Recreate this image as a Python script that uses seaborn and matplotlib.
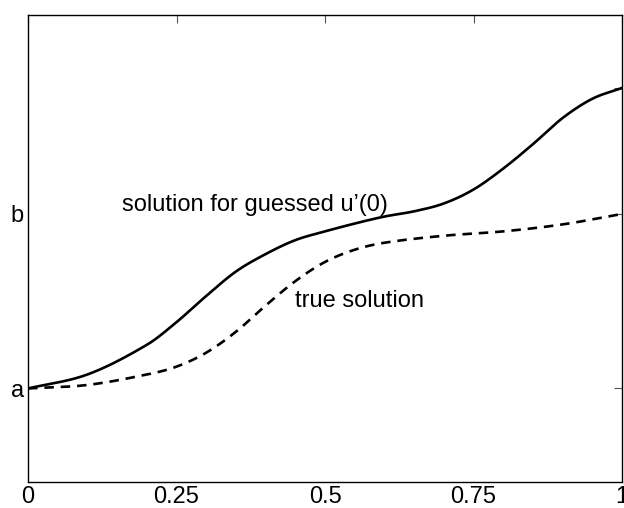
import numpy as np
import pandas as pd
import matplotlib
matplotlib.use("Agg")
import matplotlib.pyplot as plt
import seaborn as sns

# ---------------------------------------------------------------
# Data (a = 0, b = 1 on the y scale)
# ---------------------------------------------------------------
guess_x = [0.0, 0.1, 0.2, 0.25, 0.3, 0.35, 0.4, 0.45, 0.5, 0.55, 0.6,
           0.65, 0.7, 0.75, 0.8, 0.85, 0.9, 0.95, 1.0]
guess_y = [0.0, 0.08, 0.25, 0.38, 0.53, 0.67, 0.77, 0.85, 0.90, 0.945, 0.985,
           1.015, 1.06, 1.14, 1.26, 1.40, 1.55, 1.66, 1.722]

true_x = [0.0, 0.1, 0.2, 0.25, 0.3, 0.35, 0.4, 0.45, 0.5, 0.55, 0.6,
          0.7, 0.8, 0.9, 1.0]
true_y = [0.0, 0.02, 0.08, 0.125, 0.205, 0.325, 0.475, 0.615, 0.725, 0.795, 0.835,
          0.875, 0.90, 0.94, 1.0]

x_ticks = [0, 0.25, 0.5, 0.75, 1]
x_tick_labels = ["0", "0.25", "0.5", "0.75", "1"]
y_ticks = [0, 1, 1.722]
y_tick_labels = ["a", "b", ""]

guess_label = "solution for guessed u\u2019(0)"
true_label = "true solution"


def smooth(xs, ys, n=400):
    # Catmull-Rom style cubic resampling of the read-off points
    xs = np.asarray(xs, float)
    ys = np.asarray(ys, float)
    h = np.diff(xs)
    d = np.diff(ys) / h
    m = np.zeros_like(ys)
    m[1:-1] = (ys[2:] - ys[:-2]) / (xs[2:] - xs[:-2])
    m[0] = d[0]
    m[-1] = d[-1]
    xf = np.linspace(xs[0], xs[-1], n)
    k = np.clip(np.searchsorted(xs, xf) - 1, 0, len(xs) - 2)
    t = (xf - xs[k]) / h[k]
    h00 = 2 * t**3 - 3 * t**2 + 1
    h10 = t**3 - 2 * t**2 + t
    h01 = -2 * t**3 + 3 * t**2
    h11 = t**3 - t**2
    yf = h00 * ys[k] + h10 * h[k] * m[k] + h01 * ys[k + 1] + h11 * h[k] * m[k + 1]
    return xf, yf


def main():
    sns.set_style("white")
    plt.rcParams["font.family"] = ["Liberation Sans", "DejaVu Sans"]
    plt.rcParams["text.color"] = "black"
    plt.rcParams["xtick.labelcolor"] = "black"
    plt.rcParams["ytick.labelcolor"] = "black"

    fig = plt.figure(figsize=(6.24, 5.08), dpi=100)
    ax = fig.add_axes([0.0449, 0.0512, 0.952, 0.9193])

    gx, gy = smooth(guess_x, guess_y)
    tx, ty = smooth(true_x, true_y)
    dfGuess = pd.DataFrame({"x": gx, "y": gy})
    dfTrue = pd.DataFrame({"x": tx, "y": ty})

    sns.lineplot(data=dfGuess, x="x", y="y", ax=ax, color="black", linewidth=1.9)
    sns.lineplot(data=dfTrue, x="x", y="y", ax=ax, color="black", linewidth=1.9,
                 linestyle=(0, (3.6, 2.6)))

    ax.set_xlim(0, 1)
    ax.set_ylim(-0.536, 2.14)
    ax.set_xticks(x_ticks)
    ax.set_xticklabels(x_tick_labels)
    ax.set_yticks(y_ticks)
    ax.set_yticklabels(y_tick_labels)
    ax.set_xlabel("")
    ax.set_ylabel("")

    ax.tick_params(direction="in", length=6, width=0.8, color="#555555",
                   labelsize=17, labelcolor="black", top=True, right=True, pad=3)
    for side in ax.spines.values():
        side.set_color("black")
        side.set_linewidth(1.0)

    ax.text(0.158, 1.05, guess_label, fontsize=17, va="center", ha="left")
    ax.text(0.449, 0.50, true_label, fontsize=17, va="center", ha="left")

    fig.savefig("out.png", dpi=100)


if __name__ == "__main__":
    main()
